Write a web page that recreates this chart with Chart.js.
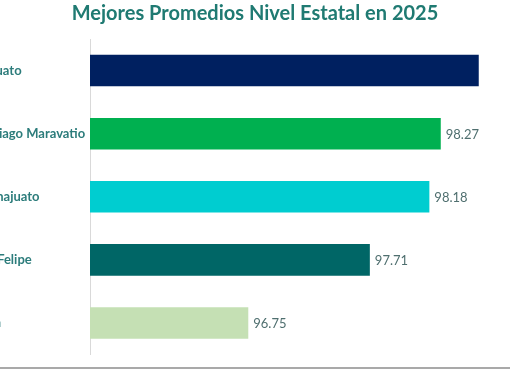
<!DOCTYPE html>
<html>
<head>
<meta charset="utf-8">
<script src="https://cdn.jsdelivr.net/npm/chart.js@4"></script>
<style>
  html, body { margin: 0; padding: 0; background: #fff; overflow: hidden; }
  body { width: 510px; height: 369px; position: relative; }
  #wrap { position: absolute; left: -27px; top: 0; width: 564px; height: 369px; }
  #bottomLine { position: absolute; left: 0; top: 367px; width: 510px; height: 2px; background: #a9a9a9; }
</style>
</head>
<body>
<div id="wrap"><canvas id="myChart"></canvas></div>
<div id="bottomLine"></div>
<script>
// data (left of the labels is cut off in the screenshot)
var escuelas = ['Irapuato', 'Santiago Maravatio', 'Guanajuato', 'San Felipe', 'León']
var promedios = [98.57, 98.27, 98.18, 97.71, 96.75]
var colores = ['#002060', '#00b050', '#00cdd0', '#006666', '#c5e0b4']
var titulo = 'Mejores Promedios Nivel Estatal en 2025'

var font = 'Lato, "Open Sans", sans-serif'
var shift = 27 // canvas sticks out this much on both sides of the page

// draw value after every bar, skip it if it runs off the page
var valueLabels = {
  id: 'valueLabels',
  afterDatasetsDraw: function(chart){
    var ctx = chart.ctx
    var meta = chart.getDatasetMeta(0)
    var visibleRight = chart.width - shift
    ctx.save()
    ctx.font = '13px ' + font
    ctx.fillStyle = '#4f6f6f'
    ctx.textAlign = 'left'
    ctx.textBaseline = 'middle'
    meta.data.forEach(function(bar, i){
      var txt = promedios[i].toFixed(2)
      if (bar.x + 5 + ctx.measureText(txt).width > visibleRight) return
      ctx.fillText(txt, bar.x + 5, bar.y + 1)
    })
    ctx.restore()
  }
}

var ctxx = document.getElementById('myChart').getContext('2d')
var chart = new Chart(ctxx, {
  type: 'bar',
  data: {
    labels: escuelas,
    datasets: [{
      data: promedios,
      backgroundColor: colores,
      borderWidth: 0,
      barPercentage: 0.5,
      categoryPercentage: 1
    }]
  },
  options: {
    indexAxis: 'y',
    responsive: true,
    maintainAspectRatio: false,
    animation: false,
    layout: { padding: { left: 0, right: 0, top: 0, bottom: 14.5 } },
    plugins: {
      legend: { display: false },
      tooltip: { enabled: false },
      title: {
        display: true,
        text: titulo,
        color: '#1f7a72',
        font: { family: font, size: 20, weight: 'bold' },
        padding: { top: 2, bottom: 13 }
      }
    },
    scales: {
      x: {
        display: false,
        min: 95.5,
        max: 99.03
      },
      y: {
        grid: { display: false },
        border: { display: true, color: '#d9d9d9', width: 1 },
        ticks: {
          crossAlign: 'far',
          color: '#2c7c7b',
          font: { family: font, size: 13, weight: 'bold' }
        },
        afterFit: function(scale){ scale.width = 117 }
      }
    }
  },
  plugins: [valueLabels]
})
</script>
</body>
</html>
